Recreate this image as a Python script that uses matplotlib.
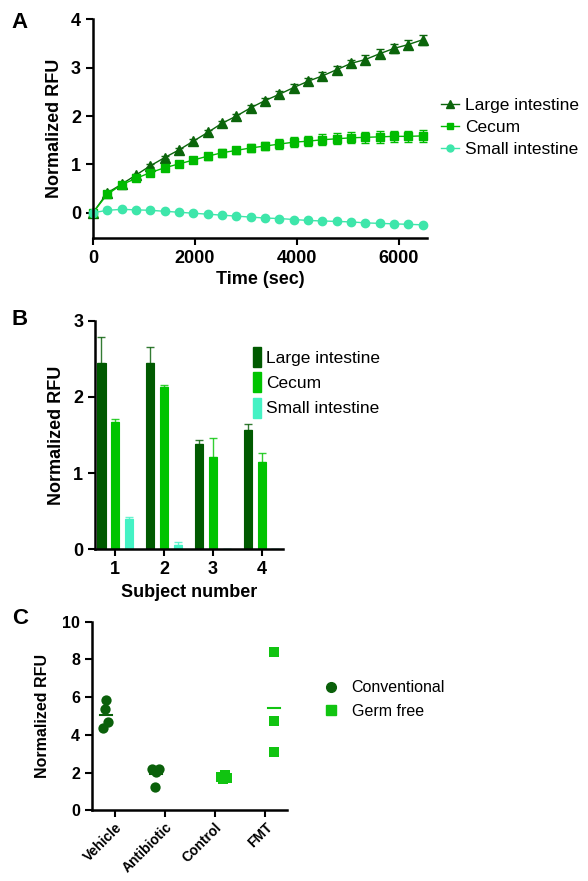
import numpy as np
import matplotlib
matplotlib.use("Agg")
import matplotlib.pyplot as plt
from matplotlib.patches import Patch
from matplotlib.lines import Line2D

plt.rcParams['font.family'] = ['Liberation Sans', 'DejaVu Sans']

# ---------------- Data ----------------
# Panel A: kinetics
times = [0, 281, 563, 844, 1125, 1406, 1688, 1969, 2250, 2531, 2813, 3094,
         3375, 3656, 3938, 4219, 4500, 4781, 5063, 5344, 5625, 5906, 6188, 6469]
large_int = [0, 0.41, 0.59, 0.78, 0.97, 1.14, 1.30, 1.48, 1.66, 1.85, 2.00, 2.17,
             2.32, 2.45, 2.59, 2.72, 2.83, 2.96, 3.09, 3.17, 3.29, 3.40, 3.48, 3.58]
large_err = [0, 0.02, 0.02, 0.03, 0.03, 0.03, 0.04, 0.04, 0.05, 0.05, 0.05, 0.06,
             0.06, 0.07, 0.07, 0.07, 0.08, 0.08, 0.08, 0.09, 0.09, 0.09, 0.10, 0.10]
cecum = [0, 0.38, 0.58, 0.71, 0.83, 0.93, 1.01, 1.09, 1.17, 1.24, 1.29, 1.34,
         1.38, 1.42, 1.46, 1.48, 1.51, 1.53, 1.55, 1.56, 1.57, 1.58, 1.58, 1.59]
cecum_err = [0, 0.03, 0.03, 0.04, 0.05, 0.05, 0.06, 0.07, 0.07, 0.08, 0.08, 0.09,
             0.09, 0.10, 0.10, 0.10, 0.11, 0.11, 0.11, 0.12, 0.12, 0.12, 0.12, 0.12]
small_int = [0, 0.05, 0.07, 0.06, 0.05, 0.03, 0.01, -0.01, -0.03, -0.05, -0.07, -0.09,
             -0.11, -0.12, -0.14, -0.16, -0.17, -0.18, -0.19, -0.21, -0.22, -0.23, -0.24, -0.25]
small_err = [0.0] * 24

# Panel B: per subject
subjects = ['1', '2', '3', '4']
b_large = [2.45, 2.45, 1.38, 1.57]
b_large_err = [0.33, 0.21, 0.05, 0.07]
b_cecum = [1.67, 2.13, 1.21, 1.15]
b_cecum_err = [0.04, 0.02, 0.25, 0.11]
b_small = [0.40, 0.05, 0.005, 0.0]
b_small_err = [0.03, 0.04, 0.0, 0.0]

# Panel C: groups
c_groups = ['Vehicle', 'Antibiotic', 'Control', 'FMT']
vehicle = [5.84, 5.36, 4.67, 4.34]
antibiotic = [2.21, 2.20, 2.05, 1.22]
control = [1.85, 1.75, 1.65, 1.72]
fmt = [8.39, 4.75, 3.09]

# ---------------- Style ----------------
C_LI = '#0b650b'
C_CE = '#00bb00'
C_SI = '#3ee6aa'
B_LI = '#005a00'
B_CE = '#00c400'
B_SI = '#44f2c4'

fig = plt.figure(figsize=(5.88, 8.81), dpi=100)

def style_axes(ax, size=13):
    for s in ['top', 'right']:
        ax.spines[s].set_visible(False)
    for s in ['left', 'bottom']:
        ax.spines[s].set_linewidth(1.8)
    ax.tick_params(width=1.5, length=5, labelsize=size)
    for lab in ax.get_xticklabels() + ax.get_yticklabels():
        lab.set_fontweight('bold')

# ---------------- Panel A ----------------
axA = fig.add_axes([0.158, 0.730, 0.568, 0.248])
series = [(large_int, large_err, C_LI, '^', 6.5, 'Large intestine'),
          (cecum, cecum_err, C_CE, 's', 6, 'Cecum'),
          (small_int, small_err, C_SI, 'o', 6, 'Small intestine')]
handles = []
for vals, err, col, mk, ms, lab in series:
    axA.errorbar(times, vals, yerr=err, color=col, marker=mk, ms=ms, lw=1.0,
                 elinewidth=1.0, capsize=3, capthick=1.0, clip_on=False)
    handles.append(Line2D([], [], color=col, marker=mk, ms=ms - 1, lw=1.0))
axA.set_xlim(0, 6550)
axA.set_ylim(-0.52, 4)
axA.set_xticks([0, 2000, 4000, 6000])
axA.set_yticks([0, 1, 2, 3, 4])
axA.set_xlabel('Time (sec)', fontsize=13, fontweight='bold', labelpad=3)
axA.set_ylabel('Normalized RFU', fontsize=13, fontweight='bold', labelpad=6)
style_axes(axA)
fig.legend(handles, ['Large intestine', 'Cecum', 'Small intestine'],
           loc='center left', bbox_to_anchor=(0.73, 0.855), frameon=False,
           fontsize=12.5, handlelength=1.0, handletextpad=0.35, labelspacing=0.4,
           borderpad=0.2)
fig.text(0.02, 0.974, 'A', fontsize=16, fontweight='bold', va='center')

# ---------------- Panel B ----------------
axB = fig.add_axes([0.1616, 0.3765, 0.3194, 0.2595])
x = np.arange(1, 5)
w = 0.17
off = 0.28
for vals, err, col, d, lab in [(b_large, b_large_err, B_LI, -off, 'Large intestine'),
                               (b_cecum, b_cecum_err, B_CE, 0, 'Cecum'),
                               (b_small, b_small_err, B_SI, off, 'Small intestine')]:
    axB.bar(x + d, vals, width=w, color=col, edgecolor=col, lw=0.8)
    axB.errorbar(x + d, vals, yerr=[[0] * 4, err], fmt='none', ecolor=col,
                 elinewidth=1.0, capsize=3, capthick=1.0, alpha=0.8)
axB.set_xlim(0.59, 4.43)
axB.set_ylim(0, 3)
axB.set_xticks(x)
axB.set_xticklabels(subjects)
axB.set_yticks([0, 1, 2, 3])
axB.set_xlabel('Subject number', fontsize=13, fontweight='bold', labelpad=4)
axB.set_ylabel('Normalized RFU', fontsize=13, fontweight='bold', labelpad=6)
style_axes(axB)
bh = [Patch(color=B_LI), Patch(color=B_CE), Patch(color=B_SI)]
fig.legend(bh, ['Large intestine', 'Cecum', 'Small intestine'],
           loc='center left', bbox_to_anchor=(0.41, 0.566), frameon=False,
           fontsize=12.5, handlelength=0.45, handleheight=1.4, handletextpad=0.3,
           labelspacing=0.3, borderpad=0.2)
fig.text(0.02, 0.637, 'B', fontsize=16, fontweight='bold', va='center')

# ---------------- Panel C ----------------
axC = fig.add_axes([0.156, 0.0803, 0.332, 0.214])
conv_off = -0.18
gf_off = 0.18
jit_v = [0.0, -0.02, 0.04, -0.06]
jit_a = [-0.08, 0.06, 0.0, -0.02]
jit_c = [0.02, -0.06, -0.02, 0.06]
jit_f = [0.0, 0.0, 0.0]
C_CONV = '#0a600a'
C_GF = '#11c411'
for i, (vals, jit) in enumerate([(vehicle, jit_v), (antibiotic, jit_a)]):
    xs = [i + 1 + conv_off + j for j in jit]
    axC.scatter(xs, vals, s=55, color=C_CONV, marker='o', zorder=3, lw=0)
    m = np.mean(vals)
    axC.plot([i + 1 + conv_off - 0.12, i + 1 + conv_off + 0.12], [m, m], color=C_CONV, lw=1.5)
for i, (vals, jit) in enumerate([(control, jit_c), (fmt, jit_f)]):
    xs = [i + 3 + gf_off + j for j in jit]
    axC.scatter(xs, vals, s=50, color=C_GF, marker='s', zorder=3, lw=0)
    m = np.mean(vals)
    axC.plot([i + 3 + gf_off - 0.12, i + 3 + gf_off + 0.12], [m, m], color=C_GF, lw=1.5)
axC.set_xlim(0.54, 4.44)
axC.set_ylim(0, 10)
axC.set_yticks([0, 2, 4, 6, 8, 10])
axC.set_xticks([1, 2, 3, 4])
axC.set_xticklabels(c_groups)
axC.set_ylabel('Normalized RFU', fontsize=11.5, fontweight='bold', labelpad=9)
style_axes(axC, size=11.5)
axC.tick_params(axis='x', labelsize=10, pad=2)
for lab in axC.get_xticklabels():
    lab.set_rotation(45)
    lab.set_ha('right')
    lab.set_rotation_mode('anchor')
ch = [Line2D([], [], color=C_CONV, marker='o', ls='none', ms=7),
      Line2D([], [], color=C_GF, marker='s', ls='none', ms=6.5)]
fig.legend(ch, ['Conventional', 'Germ free'], loc='center left',
           bbox_to_anchor=(0.53, 0.206), frameon=False, fontsize=11.5,
           handlelength=1.0, handletextpad=0.8, labelspacing=0.55, borderpad=0.2)
fig.text(0.02, 0.298, 'C', fontsize=16, fontweight='bold', va='center')

fig.savefig('out.png', dpi=100)
